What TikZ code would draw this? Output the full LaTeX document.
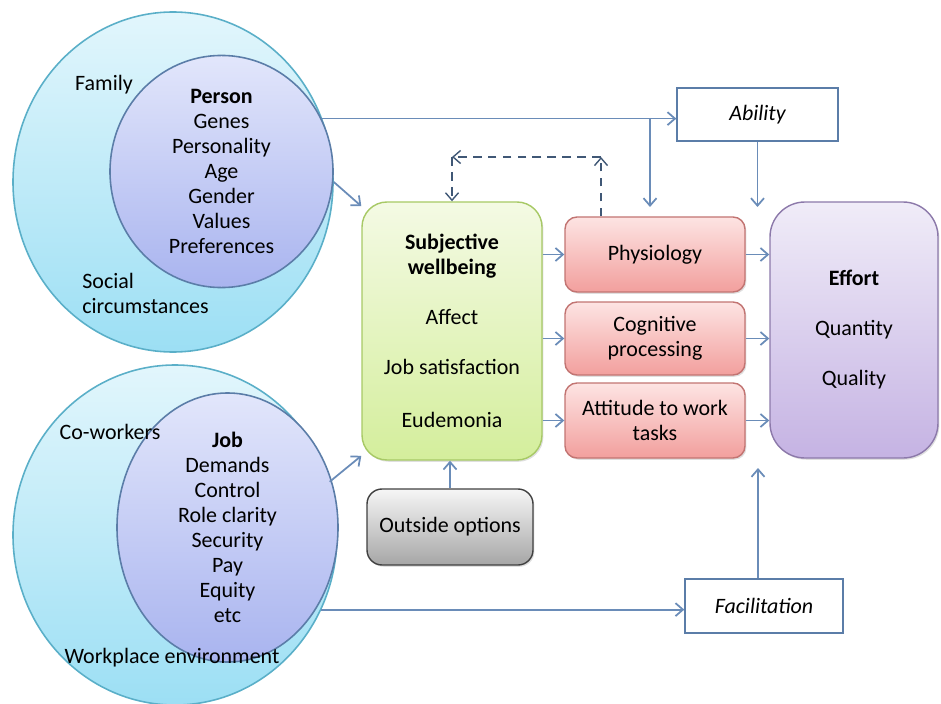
\documentclass[tikz,border=0pt]{standalone}
\usepackage{fontspec}
\setmainfont{Carlito}
\usepackage{tikz}
\usetikzlibrary{shapes,arrows.meta,calc,shadows}
\usepackage{xcolor}
\definecolor{linkblue}{HTML}{6A8CB8}
\definecolor{cyanedge}{HTML}{5AAFC8}
\definecolor{cyantop}{HTML}{E2F6FC}
\definecolor{cyanbot}{HTML}{9CDFF4}
\definecolor{bluedge}{HTML}{5B7DA8}
\definecolor{bluetop}{HTML}{E2E6FB}
\definecolor{bluebot}{HTML}{A9B4EF}
\definecolor{greenedge}{HTML}{A7C965}
\definecolor{greentop}{HTML}{F4FAE4}
\definecolor{greenbot}{HTML}{D4EE9C}
\definecolor{rededge}{HTML}{C27472}
\definecolor{redtop}{HTML}{FDE4E3}
\definecolor{redbot}{HTML}{F29F9D}
\definecolor{purpedge}{HTML}{8C79AA}
\definecolor{purptop}{HTML}{F0ECF8}
\definecolor{purpbot}{HTML}{C5B3E3}
\definecolor{grayedge}{HTML}{404040}
\definecolor{graytop}{HTML}{F6F6F6}
\definecolor{graybot}{HTML}{A6A6A6}

\begin{document}
\begin{tikzpicture}[x=0.2mm,y=-0.2mm,
    every node/.style={font=\fontsize{12.5}{14.2}\selectfont,align=center,inner sep=0pt},
    outerring/.style={ellipse,draw=cyanedge,line width=0.9pt,top color=cyantop,bottom color=cyanbot},
    innerring/.style={ellipse,draw=bluedge,line width=0.9pt,top color=bluetop,bottom color=bluebot},
    boxshadow/.style={drop shadow={opacity=0.25,shadow xshift=0.8pt,shadow yshift=-1pt}},
    wellbox/.style={rectangle,rounded corners=0.5cm,draw=greenedge,line width=0.8pt,top color=greentop,bottom color=greenbot,minimum width=3.6cm,minimum height=5.16cm,boxshadow},
    channel/.style={rectangle,rounded corners=0.24cm,draw=rededge,line width=0.8pt,top color=redtop,bottom color=redbot,minimum width=3.6cm,minimum height=1.5cm,boxshadow},
    effortbox/.style={rectangle,rounded corners=0.7cm,draw=purpedge,line width=0.8pt,top color=purptop,bottom color=purpbot,minimum width=3.36cm,minimum height=5.12cm,boxshadow},
    optbox/.style={rectangle,rounded corners=0.3cm,draw=grayedge,line width=0.8pt,top color=graytop,bottom color=graybot,minimum width=3.32cm,minimum height=1.52cm,boxshadow},
    plainbox/.style={rectangle,draw=bluedge,line width=0.8pt,fill=white,font=\fontsize{12.5}{14.2}\selectfont\itshape},
    link/.style={draw=linkblue,line width=1pt,-{Straight Barb[length=1.5mm,width=2.6mm]}},
    fback/.style={link,draw=bluedge!70!black,line width=0.8pt,dash pattern=on 5pt off 3.5pt}
  ]
        \useasboundingbox (0,0) rectangle (941,704);
        % person side
        \node[outerring,minimum width=6.4cm,minimum height=6.8cm] (family) at (173,182) {};
        \node[innerring,minimum width=4.46cm,minimum height=4.54cm] (person) at (221.5,171.5)
            {\textbf{Person}\\Genes\\Personality\\Age\\Gender\\Values\\Preferences};
        \node (famlbl) at (104,85) {Family};
        \node[anchor=west,align=left] (soclbl) at (82,293) {Social\\circumstances};
        % job side
        \node[outerring,minimum width=6.48cm,minimum height=6.8cm] (workplace) at (175,535) {};
        \node[innerring,minimum width=4.42cm,minimum height=4.58cm] (job) at (227.5,527.5)
            {\textbf{Job}\\Demands\\Control\\Role clarity\\Security\\Pay\\Equity\\etc};
        \node (cowlbl) at (110,432) {Co-workers};
        \node (wplbl) at (172,658) {Workplace environment};
        % middle
        \node[wellbox] (swb) at (452,331)
            {\textbf{Subjective}\\\textbf{wellbeing}\\[0.5cm]Affect\\[0.5cm]Job satisfaction\\[0.55cm]Eudemonia};
        \node[optbox] (outside) at (450,527) {Outside options};
        \node[channel] (phys) at (655,254.5) {Physiology};
        \node[channel,minimum height=1.46cm] (cog) at (655,338.5) {Cognitive\\processing};
        \node[channel] (att) at (655,420.5) {Attitude to work\\tasks};
        \node[effortbox] (effort) at (854,330) {\textbf{Effort}\\[0.5cm]Quantity\\[0.5cm]Quality};
        \node[plainbox,minimum width=3.22cm,minimum height=1.06cm] (ability) at (757.5,114.5) {Ability};
        \node[plainbox,minimum width=3.16cm,minimum height=1.08cm] (facil) at (764,606) {Facilitation};

        \coordinate (split) at (650,118);
        \coordinate (physin) at (650,207);
        \coordinate (effbot) at (758,468);
        \coordinate (fbR) at (601,157);
        \coordinate (fbL) at (452,157);

        % arrows
        \draw[link] (family.23) -- (family.23 -| ability.west);
        \draw[link] (split) -- (physin);
        \draw[link] (ability.south) -- (ability.south |- physin);
        \draw[link] (family.east) -- (swb.126);
        \draw[link] (workplace.19) -- (swb.234);
        \draw[link] (workplace.-27) -- (workplace.-27 -| facil.west);
        \draw[link] (facil.north -| effbot) -- (effbot);
        \draw[link] (outside.north) -- (swb.south -| outside.north);
        \draw[link] (swb.east |- phys) -- (phys.west);
        \draw[link] (swb.east |- cog) -- (cog.west);
        \draw[link] (swb.east |- att) -- (att.west);
        \draw[link] (phys.east) -- (phys.east -| effort.west);
        \draw[link] (cog.east) -- (cog.east -| effort.west);
        \draw[link] (att.east) -- (att.east -| effort.west);
        % feedback
        \draw[fback] (phys.north -| fbR) -- (fbR);
        \draw[fback] (fbR) -- (fbL);
        \draw[fback] (fbL) -- (swb.north -| fbL);
      \end{tikzpicture}
\end{document}
